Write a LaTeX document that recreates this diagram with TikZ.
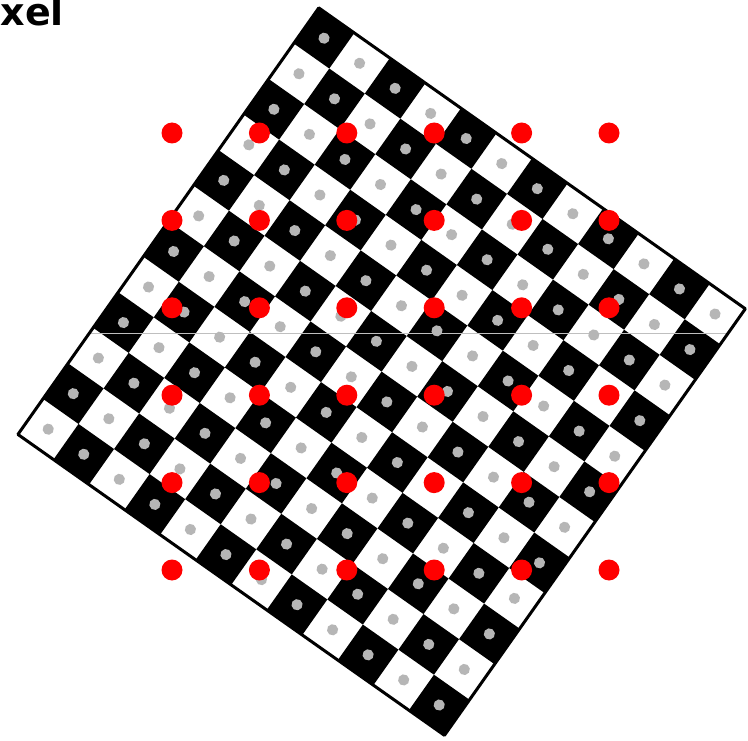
\documentclass[tikz,border=0pt]{standalone}
\usepackage{fontspec}
\newfontfamily\labelfont{DejaVu Sans}
\definecolor{dotgray}{RGB}{182,182,182}
\definecolor{dotred}{RGB}{255,0,0}
\tikzset{
  cellblack/.style={fill=black},
  pixdot/.style={fill=dotgray},
  sampdot/.style={fill=dotred},
  boardframe/.style={draw=black, line width=3pt, line join=round},
  seam/.style={draw=white!75!black, line width=0.6pt}
}
\begin{document}
\begin{tikzpicture}[x=1pt,y=-1pt]
\clip (0,0) rectangle (748,741);
\useasboundingbox (0,0) rectangle (748,741);
\fill[white] (0,0) rectangle (748,741);
\node[anchor=base east, inner sep=0pt, font=\labelfont\bfseries\fontsize{38}{38}\selectfont] (title) at (64,26) {Pixel};
\begin{scope}[shift={(318.8,7.9)}, rotate=-35.2]
  \coordinate (T) at (0,0);
  \coordinate (R) at (522,0);
  \coordinate (B) at (522,522);
  \coordinate (L) at (0,522);
  \foreach \i in {0,...,11} {
    \foreach \j in {0,...,11} {
      \pgfmathtruncatemacro\parity{mod(\i+\j,2)}
      \ifnum\parity=0
        \fill[cellblack] (\i*43.5,\j*43.5) rectangle ++(43.5,43.5);
      \fi
    }
  }
\end{scope}
\begin{scope}
  \clip (T)--(R)--(B)--(L)--cycle;
  \draw[seam] (0,333) -- (748,333);
\end{scope}
\begin{scope}[shift={(318.8,7.9)}, rotate=-35.2]
  \foreach \i in {0,...,11} {
    \foreach \j in {0,...,11} {
      \fill[pixdot] (\i*43.5+21.75,\j*43.5+21.75) circle (5.6);
    }
  }
\end{scope}
\draw[boardframe] (T)--(R)--(B)--(L)--cycle;
\foreach \a in {0,...,5} {
  \foreach \b in {0,...,5} {
    \fill[sampdot] (172+\a*87.4,133+\b*87.4) circle (10.5);
  }
}
\end{tikzpicture}
\end{document}
